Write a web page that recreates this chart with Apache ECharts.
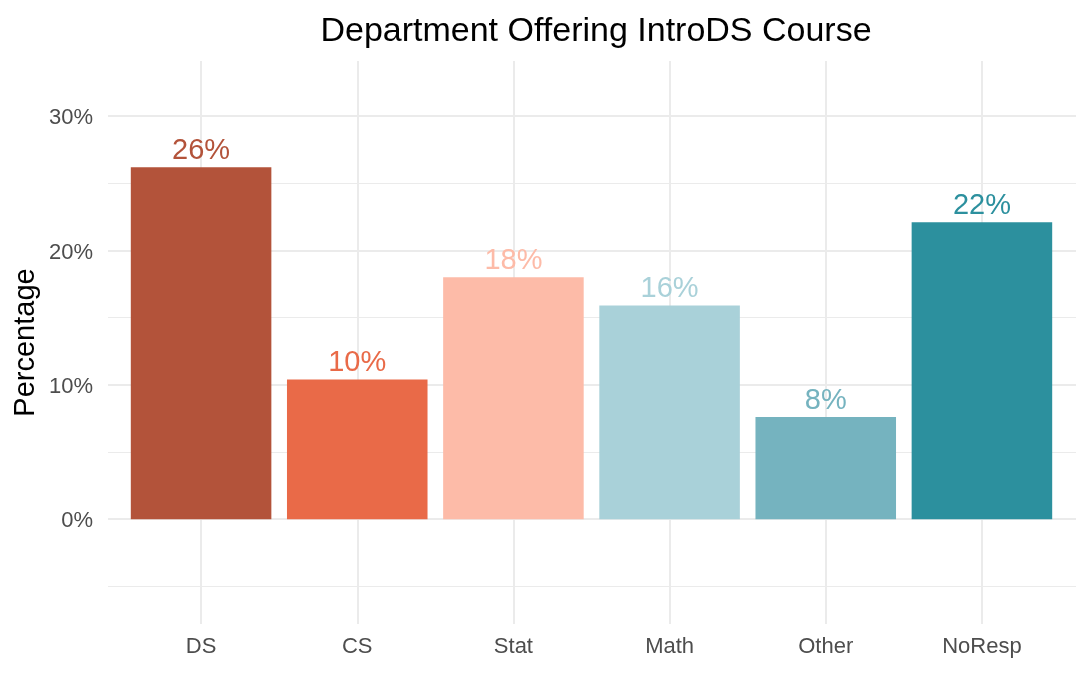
<!DOCTYPE html>
<html style="height: 100%; width: 100%;">
<head>
    <meta charset="utf-8">
    <title>Department Offering IntroDS Course</title>
    <script src="https://cdn.jsdelivr.net/npm/echarts@6/dist/echarts.min.js"></script>
    <style>
        body, html {
            margin: 0;
            padding: 0;
            width: 100%;
            height: 100%;
            background: #ffffff;
        }
        #main {
            width: 1090px;
            height: 673px;
        }
    </style>
</head>
<body>
<div id="main"></div>
<script type="text/javascript">
    // data
    var categories = ['DS', 'CS', 'Stat', 'Math', 'Other', 'NoResp'];
    var percents = [26.2, 10.4, 18.0, 15.9, 7.6, 22.1];
    var barColors = ['#b3533a', '#e96a48', '#fdbba8', '#a9d1d9', '#75b3bf', '#2c909e'];
    var majorTicks = [0, 10, 20, 30];
    var minorTicks = [-5, 5, 15, 25];

    var yMin = -7.8, yMax = 34.1;
    var font = 'Liberation Sans, Arial, Helvetica, sans-serif';
    var gridColor = '#ebebeb';

    var chart = echarts.init(document.getElementById('main'));

    // horizontal grid lines + y tick labels, drawn through the y scale
    var hLines = [];
    minorTicks.forEach(function (v) {
        hLines.push({ yAxis: v, lineStyle: { width: 1.2 }, label: { show: false } });
    });
    majorTicks.forEach(function (v) {
        hLines.push({ yAxis: v, lineStyle: { width: 2 }, label: { show: true, formatter: v + '%' } });
    });

    var barData = percents.map(function (v, i) {
        return {
            value: v,
            itemStyle: { color: barColors[i] },
            label: { color: barColors[i] }
        };
    });

    var option = {
        animation: false,
        textStyle: { fontFamily: font },
        title: {
            text: 'Department Offering IntroDS Course',
            left: 591,
            top: 10,
            textAlign: 'center',
            textStyle: { fontSize: 34, fontWeight: 'normal', color: '#000000', fontFamily: font }
        },
        grid: [
            // full panel (gridlines, y labels)
            { left: 108, right: 14, top: 61, bottom: 49 },
            // bar area, narrowed so the categories sit like ggplot's discrete scale
            { left: 123, right: 30, top: 61, bottom: 49 }
        ],
        xAxis: [
            { gridIndex: 0, type: 'value', min: 0, max: 1, show: false },
            {
                gridIndex: 1,
                type: 'category',
                data: categories,
                boundaryGap: true,
                axisLine: { show: false },
                axisTick: { show: false },
                splitLine: { show: false },
                axisLabel: { fontSize: 22, color: '#4d4d4d', margin: 12, fontFamily: font }
            }
        ],
        yAxis: [
            {
                gridIndex: 0,
                type: 'value',
                min: yMin,
                max: yMax,
                name: 'Percentage',
                nameLocation: 'middle',
                nameRotate: 90,
                nameGap: 68,
                nameTextStyle: { fontSize: 29, color: '#000000', fontFamily: font },
                axisLine: { show: false },
                axisTick: { show: false },
                axisLabel: { show: false },
                splitLine: { show: false }
            },
            {
                gridIndex: 1,
                type: 'value',
                min: yMin,
                max: yMax,
                show: false,
                splitLine: { show: false }
            }
        ],
        series: [
            {
                type: 'line',
                xAxisIndex: 0,
                yAxisIndex: 0,
                data: [],
                silent: true,
                markLine: {
                    z: 0,
                    silent: true,
                    symbol: 'none',
                    animation: false,
                    lineStyle: { color: gridColor, type: 'solid' },
                    label: {
                        position: 'start',
                        distance: 15,
                        offset: [0, 2],
                        fontSize: 22,
                        color: '#4d4d4d',
                        fontFamily: font
                    },
                    data: hLines
                }
            },
            {
                type: 'bar',
                xAxisIndex: 1,
                yAxisIndex: 1,
                z: 3,
                barWidth: '90%',
                data: barData,
                label: {
                    show: true,
                    position: 'top',
                    distance: 2,
                    fontSize: 29,
                    fontFamily: font,
                    formatter: function (p) { return Math.round(p.value) + '%'; }
                },
                markLine: {
                    z: 0,
                    silent: true,
                    symbol: 'none',
                    animation: false,
                    label: { show: false },
                    lineStyle: { color: gridColor, type: 'solid', width: 2 },
                    data: categories.map(function (c) { return { xAxis: c }; })
                }
            }
        ]
    };

    chart.setOption(option);
</script>
</body>
</html>
